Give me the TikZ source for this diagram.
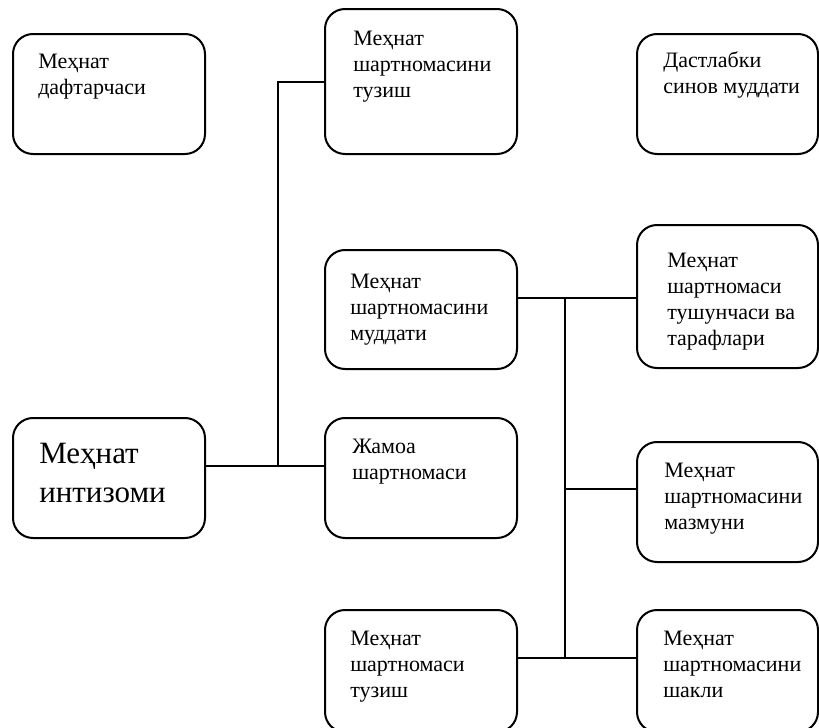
\documentclass[tikz,border=0pt]{standalone}
\usepackage{fontspec}
\setmainfont{Liberation Serif}
\begin{document}
\begin{tikzpicture}[x=0.75pt,y=-0.75pt,
  box/.style={draw, line width=1.5pt, rounded corners=15pt, inner sep=0pt, outer sep=0pt, anchor=north west},
  lbl/.style={anchor=north west, inner sep=0pt, align=left, font=\fontsize{16.5}{19.5}\selectfont},
  biglbl/.style={anchor=north west, inner sep=0pt, align=left, font=\fontsize{23.25}{29.25}\selectfont},
  conn/.style={line width=1.5pt}]
\useasboundingbox (0,0) rectangle (819,728);
% boxes
\node[box, minimum width=144pt, minimum height=90pt] (b1) at (13,34) {};
\node[box, minimum width=144pt, minimum height=108.75pt] (b2) at (325,9) {};
\node[box, minimum width=135.75pt, minimum height=90pt] (b3) at (637,34) {};
\node[box, minimum width=144pt, minimum height=89.25pt] (b4) at (325,250) {};
\node[box, minimum width=135.75pt, minimum height=107.25pt] (b5) at (637,225) {};
\node[box, minimum width=144pt, minimum height=90pt] (b6) at (13,418) {};
\node[box, minimum width=144pt, minimum height=90pt] (b7) at (325,418) {};
\node[box, minimum width=135.75pt, minimum height=90pt] (b8) at (637,442) {};
\node[box, minimum width=144pt, minimum height=91.5pt] (b9) at (325,610) {};
\node[box, minimum width=135.75pt, minimum height=91.5pt] (b10) at (637,610) {};
% labels
\node[lbl] (t1) at ([shift={(25,19.6)}]b1.north west) {Меҳнат\\дафтарчаси};
\node[lbl] (t2) at ([shift={(28,21.6)}]b2.north west) {Меҳнат\\шартномасини\\тузиш};
\node[lbl] (t3) at ([shift={(26,17.8)}]b3.north west) {Дастлабки\\синов муддати};
\node[lbl] (t4) at ([shift={(25,23.6)}]b4.north west) {Меҳнат\\шартномасини\\муддати};
\node[lbl] (t5) at ([shift={(30,27.6)}]b5.north west) {Меҳнат\\шартномаси\\тушунчаси ва\\тарафлари};
\node[biglbl] (t6) at ([shift={(26,24.7)}]b6.north west) {Меҳнат\\интизоми};
\node[lbl] (t7) at ([shift={(27,20.6)}]b7.north west) {Жамоа\\шартномаси};
\node[lbl] (t8) at ([shift={(27,20.6)}]b8.north west) {Меҳнат\\шартномасини\\мазмуни};
\node[lbl] (t9) at ([shift={(25,20.6)}]b9.north west) {Меҳнат\\шартномаси\\тузиш};
\node[lbl] (t10) at ([shift={(26,20.6)}]b10.north west) {Меҳнат\\шартномасини\\шакли};
% junctions
\coordinate (j1) at (278,466);
\coordinate (k1) at (565,298);
\coordinate (k2) at (565,489);
\coordinate (k3) at (565,658);
% connectors
\draw[conn] (b6.east |- j1) -- (b7.west |- j1);
\draw[conn] (j1) |- (b2.west);
\draw[conn] (b4.east |- k1) -- (b5.west |- k1);
\draw[conn] (k1) -- (k3);
\draw[conn] (k2) -- (b8.west |- k2);
\draw[conn] (b9.east |- k3) -- (b10.west |- k3);
\end{tikzpicture}
\end{document}
